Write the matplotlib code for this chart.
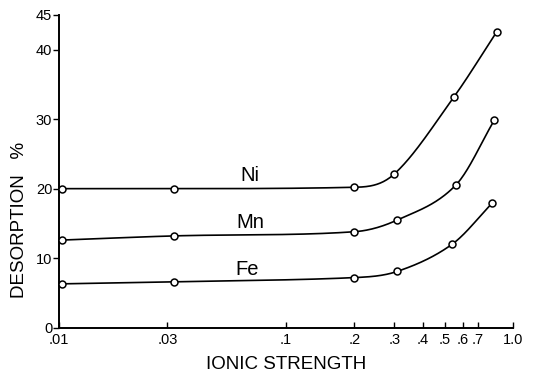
import numpy as np
import matplotlib
matplotlib.use("Agg")
import matplotlib.pyplot as plt

plt.rcParams['font.family'] = ['Liberation Sans', 'DejaVu Sans']

# Data (ionic strength, desorption %)
ni_x = [0.0103, 0.032, 0.20, 0.30, 0.55, 0.85]
ni_y = [20.0, 20.0, 20.2, 22.1, 33.2, 42.6]
mn_x = [0.0103, 0.032, 0.20, 0.31, 0.56, 0.83]
mn_y = [12.6, 13.2, 13.8, 15.5, 20.5, 29.9]
fe_x = [0.0103, 0.032, 0.20, 0.31, 0.54, 0.81]
fe_y = [6.3, 6.6, 7.2, 8.1, 12.0, 17.9]
series_names = ["Ni", "Mn", "Fe"]
label_pos = [(0.069, 21.9), (0.0697, 15.1), (0.0673, 8.4)]

xticks = [0.01, 0.03, 0.1, 0.2, 0.3, 0.4, 0.5, 0.6, 0.7, 1.0]
xticklabels = [".01", ".03", ".1", ".2", ".3", ".4", ".5", ".6", ".7", "1.0"]
yticks = [0, 10, 20, 30, 40, 45]


def smooth(x, y, xn):
    """Monotone cubic Hermite curve with Catmull-Rom style slopes."""
    x = np.asarray(x, float); y = np.asarray(y, float)
    h = np.diff(x); d = np.diff(y) / h
    n = len(x); m = np.zeros(n)
    for k in range(1, n - 1):
        m[k] = (y[k + 1] - y[k - 1]) / (x[k + 1] - x[k - 1])
        if d[k - 1] * d[k] <= 0:
            m[k] = 0.0
        else:
            m[k] = np.sign(m[k]) * min(abs(m[k]), 3 * min(abs(d[k - 1]), abs(d[k])))
    m[0] = d[0]; m[-1] = d[-1]
    out = np.empty_like(xn)
    for i, xv in enumerate(xn):
        k = min(max(np.searchsorted(x, xv) - 1, 0), n - 2)
        t = (xv - x[k]) / h[k]
        h00 = 2*t**3 - 3*t**2 + 1; h10 = t**3 - 2*t**2 + t
        h01 = -2*t**3 + 3*t**2; h11 = t**3 - t**2
        out[i] = h00*y[k] + h10*h[k]*m[k] + h01*y[k+1] + h11*h[k]*m[k+1]
    return out


fig = plt.figure(figsize=(5.37, 3.74), dpi=100)
ax = fig.add_axes([0.110, 0.124, 0.845, 0.836])

for (xs, ys), name, (lx, ly) in zip([(ni_x, ni_y), (mn_x, mn_y), (fe_x, fe_y)],
                                     series_names, label_pos):
    lxs = np.log10(xs)
    xn = np.linspace(lxs[0], lxs[-1], 400)
    yn = smooth(lxs, ys, xn)
    ax.plot(10**xn, yn, color='black', lw=1.2, zorder=2)
    ax.plot(xs, ys, 'o', ms=5, mfc='white', mec='black', mew=1.1, zorder=3,
            clip_on=False)
    ax.text(lx, ly, name, ha='center', va='center', fontsize=14.5)

ax.set_xscale('log')
ax.set_xlim(0.01, 1.0)
ax.set_ylim(0, 45)
ax.set_xticks(xticks)
ax.set_xticklabels(xticklabels)
ax.xaxis.set_minor_locator(matplotlib.ticker.NullLocator())
ax.set_yticks(yticks)
ax.tick_params(axis='x', direction='in', length=4, width=1, labelsize=10.5, pad=4)
ax.tick_params(axis='y', direction='out', length=4, width=1, labelsize=10.5, pad=1)
for s in ['top', 'right']:
    ax.spines[s].set_visible(False)
for s in ['left', 'bottom']:
    ax.spines[s].set_linewidth(1.4)

ax.set_xlabel("IONIC STRENGTH", fontsize=13.5, labelpad=6)
ax.set_ylabel("DESORPTION   %", fontsize=13.5)
ax.yaxis.set_label_coords(-0.068, 0.344)

fig.savefig("out.png", dpi=100)
